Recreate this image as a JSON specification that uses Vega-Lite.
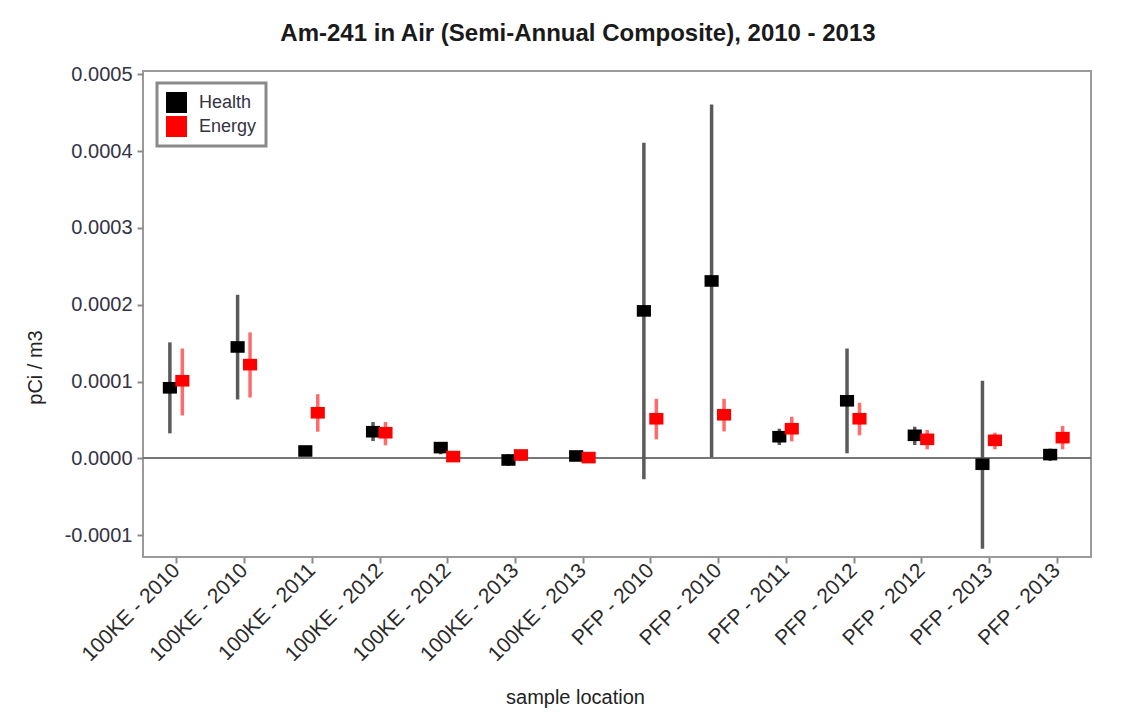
{
  "$schema": "https://vega.github.io/schema/vega-lite/v6.json",
  "autosize": "none",
  "padding": {"left": 143, "top": 71, "right": 52, "bottom": 160},
  "width": 948,
  "height": 486,
  "background": "white",
  "title": {
    "text": "Am-241 in Air (Semi-Annual Composite), 2010 - 2013",
    "font": "Liberation Sans",
    "fontSize": 24,
    "fontWeight": "bold",
    "color": "#1a1a1a",
    "anchor": "middle",
    "dx": -39,
    "offset": 18
  },
  "data": {
    "values": [
      {"k": "a|100KE - 2010", "s": "Health", "v": 0.0000918, "lo": 0.0000325, "hi": 0.000151},
      {"k": "b|100KE - 2010", "s": "Health", "v": 0.000145, "lo": 0.0000766, "hi": 0.000213},
      {"k": "c|100KE - 2011", "s": "Health", "v": 0.0000095, "lo": 0.000003, "hi": 0.000016},
      {"k": "d|100KE - 2012", "s": "Health", "v": 0.0000346, "lo": 0.0000225, "hi": 0.0000472},
      {"k": "e|100KE - 2012", "s": "Health", "v": 0.0000139, "lo": 0.0000052, "hi": 0.0000203},
      {"k": "f|100KE - 2013", "s": "Health", "v": -0.0000022, "lo": -0.00001, "hi": 0.0000052},
      {"k": "g|100KE - 2013", "s": "Health", "v": 0.000003, "lo": -0.000001, "hi": 0.0000095},
      {"k": "h|PFP - 2010", "s": "Health", "v": 0.000192, "lo": -0.0000273, "hi": 0.000411},
      {"k": "i|PFP - 2010", "s": "Health", "v": 0.000231, "lo": 0.000001, "hi": 0.000461},
      {"k": "j|PFP - 2011", "s": "Health", "v": 0.0000281, "lo": 0.0000173, "hi": 0.0000385},
      {"k": "k|PFP - 2012", "s": "Health", "v": 0.0000749, "lo": 0.0000065, "hi": 0.000143},
      {"k": "l|PFP - 2012", "s": "Health", "v": 0.0000299, "lo": 0.0000173, "hi": 0.0000411},
      {"k": "m|PFP - 2013", "s": "Health", "v": -0.0000078, "lo": -0.000118, "hi": 0.000101},
      {"k": "n|PFP - 2013", "s": "Health", "v": 0.0000048, "lo": -0.0000035, "hi": 0.0000126},
      {"k": "a|100KE - 2010", "s": "Energy", "v": 0.000101, "lo": 0.0000558, "hi": 0.000143},
      {"k": "b|100KE - 2010", "s": "Energy", "v": 0.000122, "lo": 0.0000792, "hi": 0.000164},
      {"k": "c|100KE - 2011", "s": "Energy", "v": 0.0000593, "lo": 0.0000346, "hi": 0.0000835},
      {"k": "d|100KE - 2012", "s": "Energy", "v": 0.0000333, "lo": 0.0000169, "hi": 0.0000472},
      {"k": "e|100KE - 2012", "s": "Energy", "v": 0.0000022, "lo": -0.0000013, "hi": 0.0000074},
      {"k": "f|100KE - 2013", "s": "Energy", "v": 0.0000043, "lo": -0.0000035, "hi": 0.0000108},
      {"k": "g|100KE - 2013", "s": "Energy", "v": 0.0000009, "lo": -0.0000056, "hi": 0.0000053},
      {"k": "h|PFP - 2010", "s": "Energy", "v": 0.0000515, "lo": 0.0000247, "hi": 0.0000775},
      {"k": "i|PFP - 2010", "s": "Energy", "v": 0.0000567, "lo": 0.0000351, "hi": 0.0000775},
      {"k": "j|PFP - 2011", "s": "Energy", "v": 0.0000385, "lo": 0.0000221, "hi": 0.0000541},
      {"k": "k|PFP - 2012", "s": "Energy", "v": 0.0000515, "lo": 0.0000299, "hi": 0.0000723},
      {"k": "l|PFP - 2012", "s": "Energy", "v": 0.0000247, "lo": 0.0000117, "hi": 0.0000368},
      {"k": "m|PFP - 2013", "s": "Energy", "v": 0.0000234, "lo": 0.0000117, "hi": 0.0000333},
      {"k": "n|PFP - 2013", "s": "Energy", "v": 0.0000269, "lo": 0.0000117, "hi": 0.000042}
    ]
  },
  "encoding": {
    "x": {
      "field": "k",
      "type": "nominal",
      "sort": null,
      "scale": {"paddingInner": 0, "paddingOuter": 0},
      "title": "sample location",
      "axis": {
        "labelExpr": "split(datum.value, '|')[1]",
        "labelAngle": -45,
        "labelAlign": "right",
        "labelBaseline": "middle",
        "labelPadding": 4,
        "labelFontSize": 21,
        "labelColor": "#2a2a2a",
        "titleX": 432,
        "titleY": 130,
        "titleBaseline": "top",
        "titleAnchor": "start",
        "titleAlign": "center"
      }
    },
    "y": {
      "type": "quantitative",
      "scale": {"domain": [-0.0001286, 0.0005045], "nice": false, "zero": false},
      "title": "pCi / m3",
      "axis": {
        "values": [-0.0001, 0, 0.0001, 0.0002, 0.0003, 0.0004, 0.0005],
        "labelExpr": "replace(format(datum.value, '.4f'), '\u2212', '-')",
        "labelFontSize": 20,
        "labelColor": "#333344",
        "labelPadding": 5,
        "grid": false,
        "titleX": -108,
        "titleY": 296,
        "titleBaseline": "middle",
        "titleAlign": "center",
        "titleAngle": -90
      }
    }
  },
  "layer": [
    {
      "mark": {"type": "rule", "color": "#777777", "strokeWidth": 1.5},
      "encoding": {"y": {"datum": 0}, "x": null}
    },
    {
      "transform": [{"filter": "datum.s === 'Health'"}],
      "mark": {"type": "rule", "color": "#5a5a5a", "strokeWidth": 3.5},
      "encoding": {
        "x": {"field": "k", "type": "nominal", "sort": null, "bandPosition": 0.397},
        "y": {"field": "lo", "type": "quantitative"},
        "y2": {"field": "hi"}
      }
    },
    {
      "transform": [{"filter": "datum.s === 'Energy'"}],
      "mark": {"type": "rule", "color": "#ff6b6b", "strokeWidth": 3.5},
      "encoding": {
        "x": {"field": "k", "type": "nominal", "sort": null, "bandPosition": 0.581},
        "y": {"field": "lo", "type": "quantitative"},
        "y2": {"field": "hi"}
      }
    },
    {
      "transform": [{"filter": "datum.s === 'Health'"}],
      "mark": {"type": "point", "shape": "M-1,-0.82H1V0.82H-1Z", "filled": true, "size": 200, "opacity": 1, "strokeWidth": 0},
      "encoding": {
        "x": {"field": "k", "type": "nominal", "sort": null, "bandPosition": 0.397},
        "y": {"field": "v", "type": "quantitative"},
        "color": {
          "field": "s",
          "type": "nominal",
          "scale": {"domain": ["Health", "Energy"], "range": ["#000000", "#ff0000"]},
          "legend": {
            "title": null,
            "orient": "none",
            "legendX": 14,
            "legendY": 12,
            "symbolType": "square",
            "symbolSize": 441,
            "symbolStrokeWidth": 0,
            "symbolOpacity": 1,
            "labelFontSize": 18,
            "labelColor": "#333344",
            "labelOffset": 12,
            "rowPadding": 3,
            "padding": 9,
            "fillColor": "white",
            "strokeColor": "#8a8a8a"
          }
        }
      }
    },
    {
      "transform": [{"filter": "datum.s === 'Energy'"}],
      "mark": {"type": "point", "shape": "M-1,-0.82H1V0.82H-1Z", "filled": true, "size": 200, "opacity": 1, "strokeWidth": 0},
      "encoding": {
        "x": {"field": "k", "type": "nominal", "sort": null, "bandPosition": 0.581},
        "y": {"field": "v", "type": "quantitative"},
        "color": {"field": "s", "type": "nominal"}
      }
    }
  ],
  "config": {
    "font": "Liberation Sans",
    "view": {"stroke": "#9a9a9a", "strokeWidth": 2},
    "axis": {
      "domain": false,
      "ticks": true,
      "tickColor": "#8a8a8a",
      "tickWidth": 2,
      "tickSize": 6,
      "titleFont": "Liberation Sans",
      "titleFontSize": 20,
      "titleFontWeight": "normal",
      "titleColor": "#222222",
      "labelFont": "Liberation Sans"
    },
    "legend": {"strokeWidth": 3}
  }
}
